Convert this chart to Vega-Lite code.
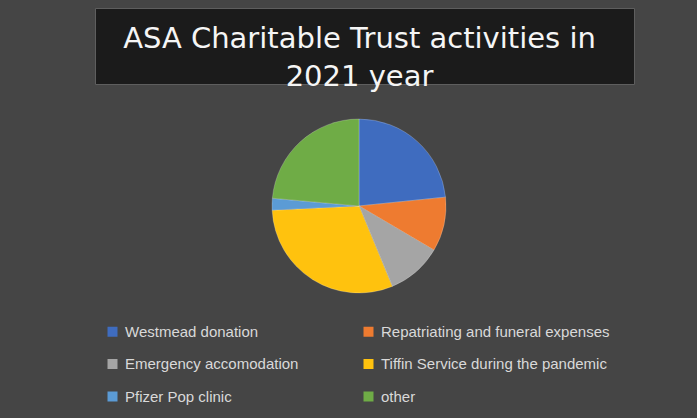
{
  "$schema": "https://vega.github.io/schema/vega-lite/v6.json",
  "background": "#454545",
  "padding": {"left": 94, "top": 7, "right": 64, "bottom": 13},
  "spacing": 23,
  "vconcat": [
    {
      "width": 539,
      "height": 76,
      "view": {"fill": "#1b1b1b", "stroke": "#5e5e5e", "strokeWidth": 1},
      "data": {"values": [{"title": "ASA Charitable Trust activities in\n2021 year"}]},
      "mark": {"type": "text", "lineBreak": "\n", "lineHeight": 38, "font": "DejaVu Sans", "fontSize": 29, "color": "#f5f5f5", "align": "center", "baseline": "alphabetic", "dx": -5, "dy": 2},
      "encoding": {"text": {"field": "title", "type": "nominal"}}
    },
    {
      "width": 528,
      "height": 180,
      "view": {"stroke": null},
      "data": {"values": [
        {"idx": 1, "activity": "Westmead donation", "value": 23.4},
        {"idx": 2, "activity": "Repatriating and funeral expenses", "value": 10.1},
        {"idx": 3, "activity": "Emergency accomodation", "value": 10.3},
        {"idx": 4, "activity": "Tiffin Service during the pandemic", "value": 30.5},
        {"idx": 5, "activity": "Pfizer Pop clinic", "value": 2.2},
        {"idx": 6, "activity": "other", "value": 23.6}
      ]},
      "mark": {"type": "arc", "outerRadius": 87, "stroke": "#ffffff", "strokeOpacity": 0.35, "strokeWidth": 0.6},
      "encoding": {
        "theta": {"field": "value", "type": "quantitative", "stack": true},
        "order": {"field": "idx", "type": "quantitative"},
        "color": {
          "field": "activity",
          "type": "nominal",
          "sort": null,
          "scale": {
            "domain": ["Westmead donation", "Repatriating and funeral expenses", "Emergency accomodation", "Tiffin Service during the pandemic", "Pfizer Pop clinic", "other"],
            "range": ["#3f6cbf", "#ee7b30", "#a5a5a5", "#ffc20e", "#5b9bd5", "#6fac46"]
          },
          "legend": {
            "orient": "none",
            "direction": "horizontal",
            "legendX": 10,
            "legendY": 316,
            "title": null,
            "columns": 2,
            "columnPadding": 62,
            "rowPadding": 16.5,
            "symbolType": "square",
            "symbolSize": 100,
            "symbolStrokeWidth": 0,
            "labelFont": "Liberation Sans",
            "labelFontSize": 15,
            "labelColor": "#d9d9d9",
            "labelOffset": 5,
            "labelLimit": 300
          }
        }
      }
    }
  ]
}
